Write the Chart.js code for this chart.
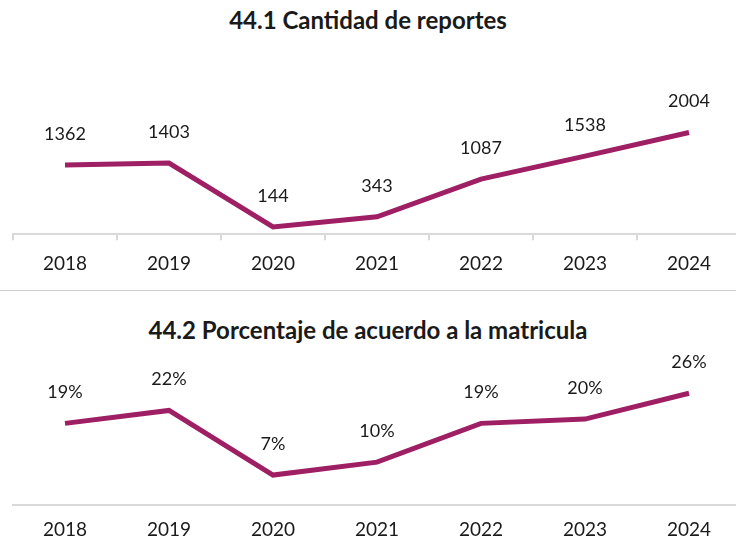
<!DOCTYPE html>
<html>
<head>
<meta charset="utf-8">
<script src="https://cdn.jsdelivr.net/npm/chart.js@4/dist/chart.umd.min.js"></script>
<style>
  html, body { margin: 0; padding: 0; background: #fff; }
  body { width: 736px; height: 544px; position: relative; overflow: hidden; font-family: Lato, sans-serif; }
  .title { position: absolute; left: 0; width: 736px; text-align: center; font-weight: bold; font-size: 24px; color: #1a1a1a; }
  .box { position: absolute; left: 0; width: 750px; }
  .sep { position: absolute; left: 0; width: 736px; top: 290px; height: 1px; background: #cfcfcf; }
</style>
</head>
<body>
<div class="title" style="top:5px">44.1 Cantidad de reportes</div>
<div class="box" style="top:40px;height:250px"><canvas id="chart-reportes"></canvas></div>
<div class="sep"></div>
<div class="title" style="top:315px">44.2 Porcentaje de acuerdo a la matricula</div>
<div class="box" style="top:345px;height:212px"><canvas id="chart-porcentaje"></canvas></div>
<script>
// Data
const years = ['2018', '2019', '2020', '2021', '2022', '2023', '2024'];
const reportes = [1362, 1403, 144, 343, 1087, 1538, 2004];
const porcentaje = [19, 22, 7, 10, 19, 20, 26];

const LINE_COLOR = '#9e1f63';
const TEXT_COLOR = '#1a1a1a';
const AXIS_COLOR = '#d9d9d9';

// draws the value above each point
const valueLabels = {
    id: 'valueLabels',
    afterDatasetsDraw(chart, args, opts) {
        const ctx = chart.ctx;
        const meta = chart.getDatasetMeta(0);
        const data = chart.data.datasets[0].data;
        ctx.save();
        ctx.font = '18px Lato, sans-serif';
        ctx.fillStyle = TEXT_COLOR;
        ctx.textAlign = 'center';
        ctx.textBaseline = 'middle';
        meta.data.forEach((pt, i) => {
            ctx.fillText(data[i] + (opts.suffix || ''), pt.x, pt.y - 31);
        });
        ctx.restore();
    }
};

function makeChart(id, values, yMax, suffix, withTicks, padding, tickPad) {
    return new Chart(document.getElementById(id), {
        type: 'line',
        data: {
            labels: years,
            datasets: [{
                data: values,
                borderColor: LINE_COLOR,
                borderWidth: 5,
                pointRadius: 0,
                tension: 0,
                clip: false
            }]
        },
        options: {
            responsive: true,
            maintainAspectRatio: false,
            animation: false,
            layout: { padding: padding },
            plugins: {
                legend: { display: false },
                tooltip: { enabled: false },
                valueLabels: { suffix: suffix }
            },
            scales: {
                x: {
                    offset: true,
                    grid: {
                        display: withTicks,
                        offset: true,
                        drawOnChartArea: false,
                        drawTicks: withTicks,
                        tickLength: 6,
                        color: AXIS_COLOR,
                        lineWidth: 2
                    },
                    border: { display: true, color: AXIS_COLOR, width: 2 },
                    ticks: {
                        color: TEXT_COLOR,
                        font: { family: 'Lato, sans-serif', size: 19 },
                        padding: tickPad,
                        maxRotation: 0
                    }
                },
                y: {
                    display: false,
                    min: 0,
                    max: yMax
                }
            }
        },
        plugins: [valueLabels]
    });
}

makeChart('chart-reportes', reportes, 3000, '', true,
    { top: 42, bottom: 3, left: 13, right: 9 }, 12);
makeChart('chart-porcentaje', porcentaje, 30, '%', false,
    { top: 31, bottom: 3, left: 13, right: 9 }, 13);
</script>
</body>
</html>
